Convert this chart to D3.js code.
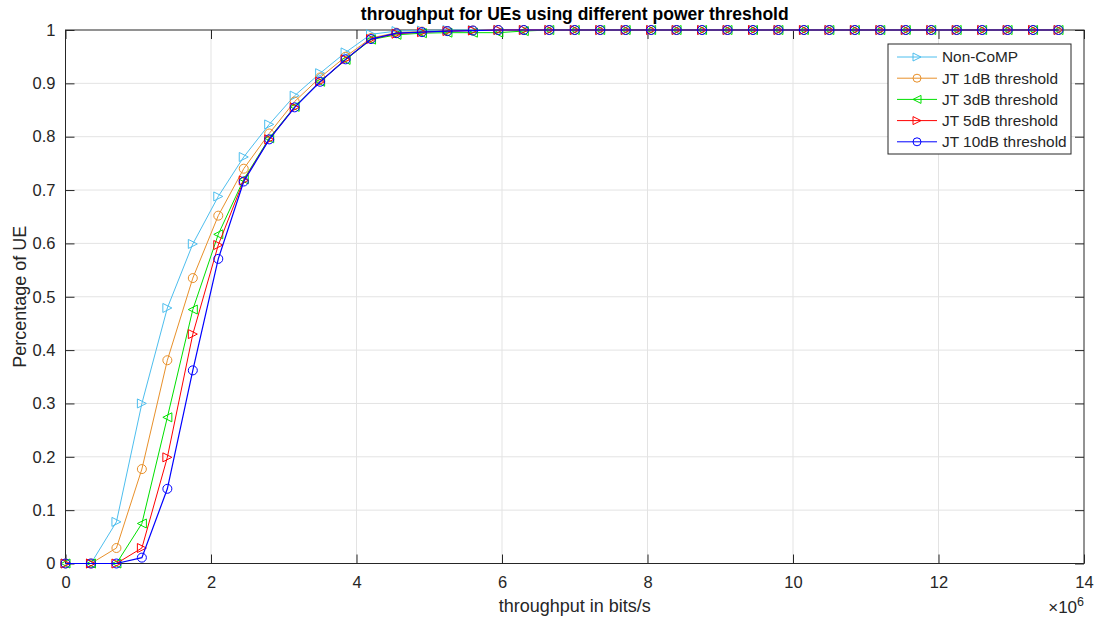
<!DOCTYPE html>
<html>
<head>
<meta charset="utf-8">
<script src="https://cdn.jsdelivr.net/npm/d3@7"></script>
<style>
  html, body { margin: 0; padding: 0; background: #ffffff; }
  svg { display: block; font-family: "Liberation Sans", Arial, Helvetica, sans-serif; }
</style>
</head>
<body>
<svg id="chart" width="1096" height="619"></svg>
<script>
// ---------------- data ----------------
const xStepMillions = 0.35; // sample spacing in units of 1e6 bits/s
const xValues = d3.range(40).map(i => +(i * xStepMillions).toFixed(2));

const seriesNames = ["Non-CoMP", "JT 1dB threshold", "JT 3dB threshold", "JT 5dB threshold", "JT 10dB threshold"];

const nonCoMP = [0, 0, 0.078, 0.300, 0.479, 0.599, 0.688, 0.762, 0.823, 0.877, 0.919, 0.958, 0.992, 0.998, 0.999, 1, 1, 1, 1, 1,
                 1, 1, 1, 1, 1, 1, 1, 1, 1, 1, 1, 1, 1, 1, 1, 1, 1, 1, 1, 1];
const jt1dB   = [0, 0, 0.029, 0.177, 0.381, 0.535, 0.652, 0.740, 0.806, 0.866, 0.911, 0.950, 0.985, 0.995, 0.997, 0.998, 0.999, 1, 1, 1,
                 1, 1, 1, 1, 1, 1, 1, 1, 1, 1, 1, 1, 1, 1, 1, 1, 1, 1, 1, 1];
const jt3dB   = [0, 0, 0, 0.075, 0.274, 0.476, 0.617, 0.720, 0.797, 0.856, 0.903, 0.944, 0.982, 0.991, 0.994, 0.995, 0.995, 0.995, 0.998, 1,
                 1, 1, 1, 1, 1, 1, 1, 1, 1, 1, 1, 1, 1, 1, 1, 1, 1, 1, 1, 1];
const jt5dB   = [0, 0, 0, 0.029, 0.199, 0.430, 0.597, 0.718, 0.795, 0.855, 0.903, 0.945, 0.983, 0.993, 0.996, 0.998, 0.999, 1, 1, 1,
                 1, 1, 1, 1, 1, 1, 1, 1, 1, 1, 1, 1, 1, 1, 1, 1, 1, 1, 1, 1];
const jt10dB  = [0, 0, 0, 0.011, 0.140, 0.362, 0.571, 0.716, 0.795, 0.855, 0.903, 0.945, 0.983, 0.994, 0.996, 0.998, 0.999, 1, 1, 1,
                 1, 1, 1, 1, 1, 1, 1, 1, 1, 1, 1, 1, 1, 1, 1, 1, 1, 1, 1, 1];

const xTicks = [0, 2, 4, 6, 8, 10, 12, 14];
const yTicks = [0, 0.1, 0.2, 0.3, 0.4, 0.5, 0.6, 0.7, 0.8, 0.9, 1];
const yTickLabels = ["0", "0.1", "0.2", "0.3", "0.4", "0.5", "0.6", "0.7", "0.8", "0.9", "1"];

const titleText = "throughput for UEs using different power threshold";
const xLabelText = "throughput in bits/s";
const yLabelText = "Percentage of UE";

// ---------------- styles ----------------
const colors  = ["#4DBEEE", "#E8902A", "#00E000", "#FF0000", "#0000FF"];
const markers = ["triRight", "circle", "triLeft", "triRight", "circle"];
const allSeries = [nonCoMP, jt1dB, jt3dB, jt5dB, jt10dB];

// ---------------- layout ----------------
const svg = d3.select("#chart");
const L = 65.5, R = 1084, T = 30, B = 563.5;
const axisColor = "#262626";

const x = d3.scaleLinear().domain([0, 14]).range([L, R]);
const y = d3.scaleLinear().domain([0, 1]).range([B, T]);

svg.append("rect").attr("x", 0).attr("y", 0).attr("width", 1096).attr("height", 619).attr("fill", "#fff");

// grid
const grid = svg.append("g");
grid.selectAll(".gx").data(xTicks.slice(1, -1)).join("line")
  .attr("x1", d => x(d)).attr("x2", d => x(d)).attr("y1", T).attr("y2", B)
  .attr("stroke", "#e3e3e3").attr("stroke-width", 1);
grid.selectAll(".gy").data(yTicks.slice(1, -1)).join("line")
  .attr("y1", d => y(d)).attr("y2", d => y(d)).attr("x1", L).attr("x2", R)
  .attr("stroke", "#e3e3e3").attr("stroke-width", 1);

// axes (ticks pointing inward)
const tickLen = 9;
const xAxis = d3.axisBottom(x).tickValues(xTicks).tickSize(-tickLen).tickPadding(13).tickFormat(d3.format("d"));
const yAxis = d3.axisLeft(y).tickValues(yTicks).tickSize(-tickLen).tickPadding(10).tickFormat((d, i) => yTickLabels[i]);
const xAxisTop = d3.axisTop(x).tickValues(xTicks).tickSize(-tickLen).tickFormat("");
const yAxisRight = d3.axisRight(y).tickValues(yTicks).tickSize(-tickLen).tickFormat("");

function styleAxis(g) {
  g.select(".domain").remove();
  g.selectAll(".tick line").attr("stroke", axisColor).attr("stroke-width", 1);
  g.selectAll(".tick text").attr("fill", axisColor).attr("font-size", 16.5)
    .attr("font-family", "Liberation Sans, Arial, sans-serif");
}
svg.append("g").attr("transform", `translate(0,${B})`).call(xAxis).call(styleAxis);
svg.append("g").attr("transform", `translate(${L},0)`).call(yAxis).call(styleAxis);
svg.append("g").attr("transform", `translate(0,${T})`).call(xAxisTop).call(styleAxis);
svg.append("g").attr("transform", `translate(${R},0)`).call(yAxisRight).call(styleAxis);

svg.append("rect").attr("x", L).attr("y", T).attr("width", R - L).attr("height", B - T)
  .attr("fill", "none").attr("stroke", axisColor).attr("stroke-width", 1);

function drawMarker(g, type, cx, cy, color, s) {
  if (type === "circle") {
    g.append("circle").attr("cx", cx).attr("cy", cy).attr("r", s)
      .attr("fill", "none").attr("stroke", color).attr("stroke-width", 1);
  } else if (type === "triRight") {
    g.append("path").attr("d", `M${cx - s},${cy - s}L${cx + s},${cy}L${cx - s},${cy + s}Z`)
      .attr("fill", "none").attr("stroke", color).attr("stroke-width", 1);
  } else if (type === "triLeft") {
    g.append("path").attr("d", `M${cx + s},${cy - s}L${cx - s},${cy}L${cx + s},${cy + s}Z`)
      .attr("fill", "none").attr("stroke", color).attr("stroke-width", 1);
  }
}

const line = d3.line().x((d, i) => x(xValues[i])).y(d => y(d));
const plot = svg.append("g");
allSeries.forEach((vals, si) => {
  const g = plot.append("g");
  g.append("path").attr("d", line(vals)).attr("fill", "none")
    .attr("stroke", colors[si]).attr("stroke-width", si === 4 ? 1.2 : 1);
  vals.forEach((v, i) => drawMarker(g, markers[si], x(xValues[i]), y(v), colors[si], 4.5));
});

svg.append("text").attr("x", (L + R) / 2).attr("y", 20).attr("text-anchor", "middle")
  .attr("font-size", 17.5).attr("font-weight", "bold").attr("fill", "#000").text(titleText);

svg.append("text").attr("x", (L + R) / 2).attr("y", 612).attr("text-anchor", "middle")
  .attr("font-size", 18).attr("fill", axisColor).text(xLabelText);

svg.append("text").attr("transform", `translate(26,${(T + B) / 2}) rotate(-90)`).attr("text-anchor", "middle")
  .attr("font-size", 18).attr("fill", axisColor).text(yLabelText);

const ex = svg.append("text").attr("x", R).attr("y", 613).attr("text-anchor", "end").attr("fill", axisColor).attr("font-size", 17);
ex.append("tspan").text("\u00d710");
ex.append("tspan").attr("font-size", 12.5).attr("dy", -7).text("6");

// legend
const lgX = 888, lgY = 44, lgW = 183, lgH = 110;
const lg = svg.append("g");
lg.append("rect").attr("x", lgX).attr("y", lgY).attr("width", lgW).attr("height", lgH)
  .attr("fill", "#fff").attr("stroke", axisColor).attr("stroke-width", 1);
seriesNames.forEach((name, i) => {
  const ry = 57 + i * 21.2;
  lg.append("line").attr("x1", 897).attr("x2", 937).attr("y1", ry).attr("y2", ry)
    .attr("stroke", colors[i]).attr("stroke-width", 1);
  drawMarker(lg, markers[i], 917, ry, colors[i], 4);
  lg.append("text").attr("x", 942).attr("y", ry + 5.3).attr("font-size", 15.4)
    .attr("fill", axisColor).text(name);
});
</script>
</body>
</html>
